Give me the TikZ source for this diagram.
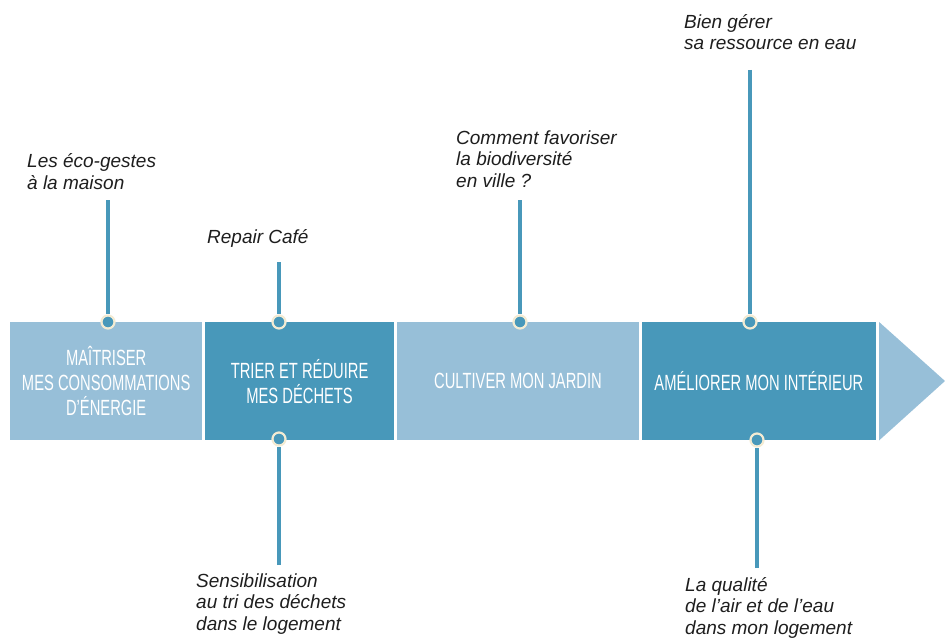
\documentclass[tikz,border=0pt]{standalone}
\usepackage{fontspec}
\setmainfont{Liberation Sans}
\newfontfamily\condfont[FakeStretch=0.67]{Liberation Sans}
\usepackage{tikz}
\usetikzlibrary{calc, positioning}
\usepackage{xcolor}
\definecolor{lightblue}{HTML}{97BFD8}
\definecolor{darkblue}{HTML}{4898BA}
\definecolor{cream}{HTML}{F3EBD3}
\definecolor{inkgray}{HTML}{1E1E1E}

\begin{document}
\begin{tikzpicture}[x=1pt, y=-1pt]
        % Styles
        \tikzset{
          stage/.style={
            minimum height=118pt,
            inner sep=0pt,
            text=white, align=center,
            font=\condfont\fontsize{22}{25}\selectfont
          },
          light/.style={stage, fill=lightblue},
          dark/.style={stage, fill=darkblue},
          dot/.style={
            circle, fill=darkblue, draw=cream,
            line width=2.2pt, minimum size=13pt, inner sep=0pt
          },
          stem/.style={darkblue, line width=3.2pt},
          topic/.style={
            text=inkgray, align=left,
            inner sep=0pt, anchor=base west,
            font=\itshape\fontsize{19}{21.5}\selectfont
          }
        }
        \useasboundingbox (0,0) rectangle (945,642);

        % stages of the timeline
        \node[light, minimum width=192pt, anchor=north west] (s1) at (10,322)
          {MAÎTRISER\\MES CONSOMMATIONS\\D’ÉNERGIE};
        \node[dark, minimum width=189pt, right=2.5pt of s1] (s2)
          {TRIER ET RÉDUIRE\\MES DÉCHETS};
        \node[light, minimum width=242pt, right=2.5pt of s2] (s3)
          {CULTIVER MON JARDIN};
        \node[dark, minimum width=234pt, right=2.5pt of s3] (s4)
          {AMÉLIORER MON INTÉRIEUR};

        % arrow head
        \fill[lightblue] ($(s4.north east)+(3,0)$) -- (945,381) --
          ($(s4.south east)+(3,0)$) -- cycle;

        % dots on the stages
        \node[dot] (d1) at (108,322) {};
        \node[dot] (d2) at (279,322) {};
        \node[dot] (d3) at (520,322) {};
        \node[dot] (d4) at (750,322) {};
        \node[dot] (d5) at (279,439) {};
        \node[dot] (d6) at (757,440) {};

        % free ends of the stems
        \coordinate (e1) at (108,200);
        \coordinate (e2) at (279,262);
        \coordinate (e3) at (520,200);
        \coordinate (e4) at (750,70);
        \coordinate (e5) at (279,565);
        \coordinate (e6) at (757,568);

        \draw[stem] (e1) -- (d1);
        \draw[stem] (e2) -- (d2);
        \draw[stem] (e3) -- (d3);
        \draw[stem] (e4) -- (d4);
        \draw[stem] (e5) -- (d5);
        \draw[stem] (e6) -- (d6);

        % topics (anchored at the baseline of the last line)
        \node[topic] (t1) at (27,189) {Les éco-gestes\\à la maison};
        \node[topic] (t2) at (207,243) {Repair Café};
        \node[topic] (t3) at (456,187) {Comment favoriser\\la biodiversité\\en ville ?};
        \node[topic] (t4) at (684,50) {Bien gérer\\sa ressource en eau};
        \node[topic] (t5) at (196,630) {Sensibilisation\\au tri des déchets\\dans le logement};
        \node[topic] (t6) at (685,634) {La qualité\\de l’air et de l’eau\\dans mon logement};
\end{tikzpicture}
\end{document}
